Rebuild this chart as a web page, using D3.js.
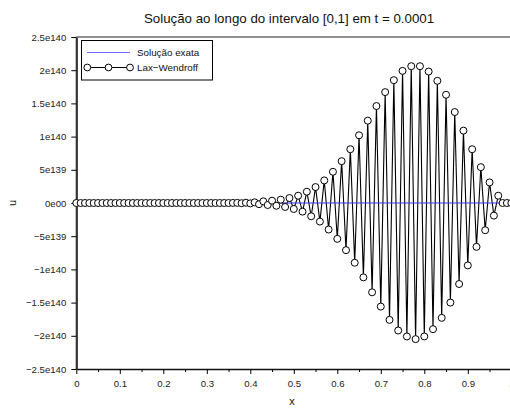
<!DOCTYPE html>
<html>
<head>
<meta charset="utf-8">
<script src="https://cdn.jsdelivr.net/npm/d3@7"></script>
<style>
  html, body { margin: 0; padding: 0; background: #fff; }
  svg { display: block; font-family: "Liberation Sans", Arial, Helvetica, sans-serif; }
</style>
</head>
<body>
<svg id="chart" width="510" height="410"></svg>
<script>
// Lax–Wendroff numerical solution on [0,1], grid step 0.01 (values in units of 1e140)
const gridX = [
  0.00, 0.01, 0.02, 0.03, 0.04, 0.05, 0.06, 0.07, 0.08, 0.09,
  0.10, 0.11, 0.12, 0.13, 0.14, 0.15, 0.16, 0.17, 0.18, 0.19,
  0.20, 0.21, 0.22, 0.23, 0.24, 0.25, 0.26, 0.27, 0.28, 0.29,
  0.30, 0.31, 0.32, 0.33, 0.34, 0.35, 0.36, 0.37, 0.38, 0.39,
  0.40, 0.41, 0.42, 0.43, 0.44, 0.45, 0.46, 0.47, 0.48, 0.49,
  0.50, 0.51, 0.52, 0.53, 0.54, 0.55, 0.56, 0.57, 0.58, 0.59,
  0.60, 0.61, 0.62, 0.63, 0.64, 0.65, 0.66, 0.67, 0.68, 0.69,
  0.70, 0.71, 0.72, 0.73, 0.74, 0.75, 0.76, 0.77, 0.78, 0.79,
  0.80, 0.81, 0.82, 0.83, 0.84, 0.85, 0.86, 0.87, 0.88, 0.89,
  0.90, 0.91, 0.92, 0.93, 0.94, 0.95, 0.96, 0.97, 0.98, 0.99,
  1.00
];
const laxWendroffU = [
  0, 0, 0, 0, 0, 0, 0, 0, 0, 0,
  0, 0, 0, 0, 0, 0, 0, 0, 0, 0,
  0, 0, 0, 0, 0, 0, 0, 0, 0, 0,
  0, 0, 0, 0, 0, 0, 0.001, 0.002, -0.003, 0.004,
  -0.006, 0.010, -0.018, 0.025, -0.030, 0.035, -0.042, 0.050, -0.060, 0.075,
  -0.090, 0.110, -0.130, 0.170, -0.200, 0.240, -0.280, 0.340, -0.400, 0.470,
  -0.540, 0.630, -0.710, 0.810, -0.900, 1.020, -1.120, 1.240, -1.345, 1.460,
  -1.560, 1.670, -1.760, 1.850, -1.920, 1.990, -2.010, 2.060, -2.050, 2.060,
  -2.010, 1.980, -1.900, 1.840, -1.730, 1.630, -1.500, 1.370, -1.220, 1.090,
  -0.940, 0.810, -0.660, 0.540, -0.410, 0.310, -0.190, 0.110, 0, 0,
  0
];

// Exact solution: flat at zero on this scale
const exactX = [0, 1];
const exactU = [0, 0];

// Axis ticks
const xTickValues = [0, 0.1, 0.2, 0.3, 0.4, 0.5, 0.6, 0.7, 0.8, 0.9, 1];
const xTickLabels = ["0", "0.1", "0.2", "0.3", "0.4", "0.5", "0.6", "0.7", "0.8", "0.9", "1"];
const xMinorTicks = [0.05, 0.15, 0.25, 0.35, 0.45, 0.55, 0.65, 0.75, 0.85, 0.95];
const yTickValues = [-2.5, -2, -1.5, -1, -0.5, 0, 0.5, 1, 1.5, 2, 2.5];
const yTickLabels = ["\u22122.5e140", "\u22122e140", "\u22121.5e140", "\u22121e140", "\u22125e139",
                     "0e00", "5e139", "1e140", "1.5e140", "2e140", "2.5e140"];

const titleText = "Solução ao longo do intervalo [0,1] em t = 0.0001";
const legendLabels = ["Solução exata", "Lax\u2212Wendroff"];

const svg = d3.select("#chart");
const plot = { left: 76.3, right: 511.3, top: 37, bottom: 369 };

const x = d3.scaleLinear().domain([0, 1]).range([plot.left, plot.right]);
const y = d3.scaleLinear().domain([-2.5, 2.5]).range([plot.bottom, plot.top]);

// Frame line along the top
svg.append("line")
  .attr("x1", plot.left).attr("x2", plot.right)
  .attr("y1", plot.top).attr("y2", plot.top)
  .attr("stroke", "#222").attr("stroke-width", 1);

// Axes
const fontSize = 9.6;
const xAxis = svg.append("g")
  .attr("transform", `translate(0,${plot.bottom})`)
  .call(d3.axisBottom(x).tickValues(xTickValues)
    .tickFormat((d, i) => xTickLabels[i]).tickSize(5).tickPadding(6).tickSizeOuter(0));
svg.append("g")
  .attr("transform", `translate(0,${plot.bottom})`)
  .call(d3.axisBottom(x).tickValues(xMinorTicks).tickFormat("").tickSize(3).tickSizeOuter(0))
  .call(g => g.select(".domain").remove());
const yAxis = svg.append("g")
  .attr("transform", `translate(${plot.left},0)`)
  .call(d3.axisLeft(y).tickValues(yTickValues)
    .tickFormat((d, i) => yTickLabels[i]).tickSize(5).tickPadding(5).tickSizeOuter(0));

svg.selectAll(".tick line").attr("stroke", "#000");
svg.selectAll(".tick text")
  .attr("font-size", fontSize)
  .attr("font-family", "'Liberation Sans', Arial, sans-serif")
  .attr("fill", "#222");
xAxis.select(".domain").attr("stroke", "#111").attr("stroke-width", 1.6);
yAxis.select(".domain").attr("stroke", "#333").attr("stroke-width", 2.2);

// Numerical solution: zigzag line
const lwData = gridX.map((d, i) => ({ x: d, u: laxWendroffU[i] }));
const line = d3.line().x(d => x(d.x)).y(d => y(d.u));
svg.append("path")
  .datum(lwData)
  .attr("d", line)
  .attr("fill", "none")
  .attr("stroke", "#000")
  .attr("stroke-width", 1.1);

// Exact solution
svg.append("path")
  .datum(exactX.map((d, i) => ({ x: d, u: exactU[i] })))
  .attr("d", line)
  .attr("fill", "none")
  .attr("stroke", "#3434ee")
  .attr("stroke-width", 1.2);

// Markers for the numerical solution
svg.append("g").selectAll("circle")
  .data(lwData)
  .join("circle")
  .attr("cx", d => x(d.x))
  .attr("cy", d => y(d.u))
  .attr("r", 3.5)
  .attr("fill", "#fff")
  .attr("stroke", "#000")
  .attr("stroke-width", 1);

// Title
svg.append("text")
  .attr("x", 289).attr("y", 22.5)
  .attr("text-anchor", "middle")
  .attr("font-size", 13.3)
  .attr("fill", "#111")
  .text(titleText);

// Axis titles
svg.append("text")
  .attr("x", 292).attr("y", 405)
  .attr("text-anchor", "middle")
  .attr("font-size", 11)
  .attr("fill", "#111")
  .text("x");
svg.append("text")
  .attr("transform", `translate(16,${y(0)}) rotate(-90)`)
  .attr("text-anchor", "middle")
  .attr("font-size", 11)
  .attr("fill", "#111")
  .text("u");

// Legend
const legend = svg.append("g");
legend.append("rect")
  .attr("x", 81.5).attr("y", 40.5)
  .attr("width", 131).attr("height", 39.5)
  .attr("fill", "#fff").attr("stroke", "#000").attr("stroke-width", 1);
legend.append("line")
  .attr("x1", 87).attr("x2", 130).attr("y1", 52.5).attr("y2", 52.5)
  .attr("stroke", "#6a6aff").attr("stroke-width", 1.2);
legend.append("line")
  .attr("x1", 87).attr("x2", 130).attr("y1", 67.5).attr("y2", 67.5)
  .attr("stroke", "#000").attr("stroke-width", 1);
legend.selectAll("circle.mk")
  .data([87.3, 108.5, 130])
  .join("circle")
  .attr("class", "mk")
  .attr("cx", d => d).attr("cy", 67.5).attr("r", 3.4)
  .attr("fill", "#fff").attr("stroke", "#000").attr("stroke-width", 1);
legend.selectAll("text")
  .data(legendLabels)
  .join("text")
  .attr("x", 137).attr("y", (d, i) => 55.8 + i * 15)
  .attr("font-size", 9.8)
  .attr("fill", "#111")
  .text(d => d);
</script>
</body>
</html>
